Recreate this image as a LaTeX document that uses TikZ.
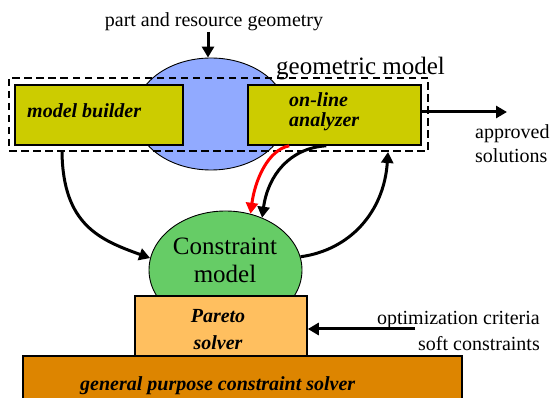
\documentclass[tikz,border=0pt]{standalone}
\usepackage{fontspec}
\setmainfont{Liberation Serif}
\usetikzlibrary{arrows.meta,shapes.geometric,calc}
\definecolor{olivebox}{RGB}{204,204,0}
\definecolor{geoblue}{RGB}{145,170,255}
\definecolor{cgreen}{RGB}{102,204,102}
\definecolor{paretofill}{RGB}{255,191,95}
\definecolor{genfill}{RGB}{221,133,0}
\begin{document}
\begin{tikzpicture}[x=1pt,y=-1pt,
  boxstyle/.style={draw=black, line width=1.6pt, rectangle, inner sep=0pt},
  blob/.style={draw=black, line width=0.9pt, ellipse, inner sep=0pt},
  lbl/.style={inner sep=0pt, font=\fontsize{20}{24}\selectfont},
  bilbl/.style={inner sep=0pt, font=\fontsize{20}{24}\selectfont\bfseries\itshape},
  biglbl/.style={inner sep=0pt, font=\fontsize{25}{30}\selectfont},
  flow/.style={line width=3pt, -{Triangle[length=11pt,width=12pt]}},
  geobox/.style={draw=black, line width=2pt, dash pattern=on 7.5pt off 4.5pt, rectangle, inner sep=0pt}]
\useasboundingbox (0,0) rectangle (552,398);

% geometric model ellipse
\node[blob, fill=geoblue, minimum width=152pt, minimum height=112pt] (blue) at (211,114) {};
% dashed frame
\node[geobox, minimum width=419pt, minimum height=73pt] (geo) at (218.5,114.5) {};
% boxes
\node[boxstyle, fill=olivebox, minimum width=168pt, minimum height=60pt] (mb) at (99,115) {};
\node[boxstyle, fill=olivebox, minimum width=173pt, minimum height=60pt] (ola) at (334.5,115) {};

% constraint model ellipse
\node[blob, fill=cgreen, minimum width=153pt, minimum height=118pt] (cm) at (225.5,270) {};
% solvers
\node[boxstyle, fill=genfill, minimum width=439pt, minimum height=60pt] (gen) at (242.5,386) {};
\node[boxstyle, fill=paretofill, minimum width=172pt, minimum height=60pt] (pareto) at (221,326) {};

% texts
\node[lbl, anchor=base] (pr) at (214,27) {part and resource geometry};
\node[biglbl, anchor=base west] (gm) at (276,75) {geometric model};
\node[bilbl, anchor=base west] (mbt) at (27,118) {model builder};
\node[bilbl, anchor=base west] (olat1) at (289,107) {on-line};
\node[bilbl, anchor=base west] (olat2) at (289,127) {analyzer};
\node[lbl, anchor=base west] (ap1) at (475,139) {approved};
\node[lbl, anchor=base west] (ap2) at (475,163) {solutions};
\node[biglbl, anchor=base] (cmt1) at (225,255) {Constraint};
\node[biglbl, anchor=base] (cmt2) at (225,283) {model};
\node[bilbl, anchor=base] (pt1) at (218,323) {Pareto};
\node[bilbl, anchor=base] (pt2) at (218,349) {solver};
\node[lbl, anchor=base east] (oc1) at (540,324) {optimization criteria};
\node[lbl, anchor=base east] (oc2) at (540,351) {soft constraints};
\node[bilbl, anchor=base west] (gent) at (80,390) {general purpose constraint solver};

% free ends
\coordinate (pin) at (208,32);
\coordinate (apr) at (507,112);
\coordinate (opt) at (415,329);

% straight arrows
\draw[flow] (pin) -- (pin |- blue.north);
\draw[flow] (apr -| ola.east) -- (apr);
\draw[flow] (opt) -- (opt -| pareto.east);

% curved arrows
\draw[flow] ([xshift=54pt]geo.south west) .. controls (63,225) and (100,240) .. (cm.171);
\draw[flow] (cm.10) .. controls (350,250) and (384,212) .. ([xshift=-41pt]geo.south east);
\draw[flow, red] ([xshift=42pt]ola.south west) .. controls (268,150) and (255,180) .. (cm.66);
\draw[flow] ([xshift=79pt]ola.south west) .. controls (290,148) and (268,175) .. (cm.55);
\end{tikzpicture}
\end{document}
